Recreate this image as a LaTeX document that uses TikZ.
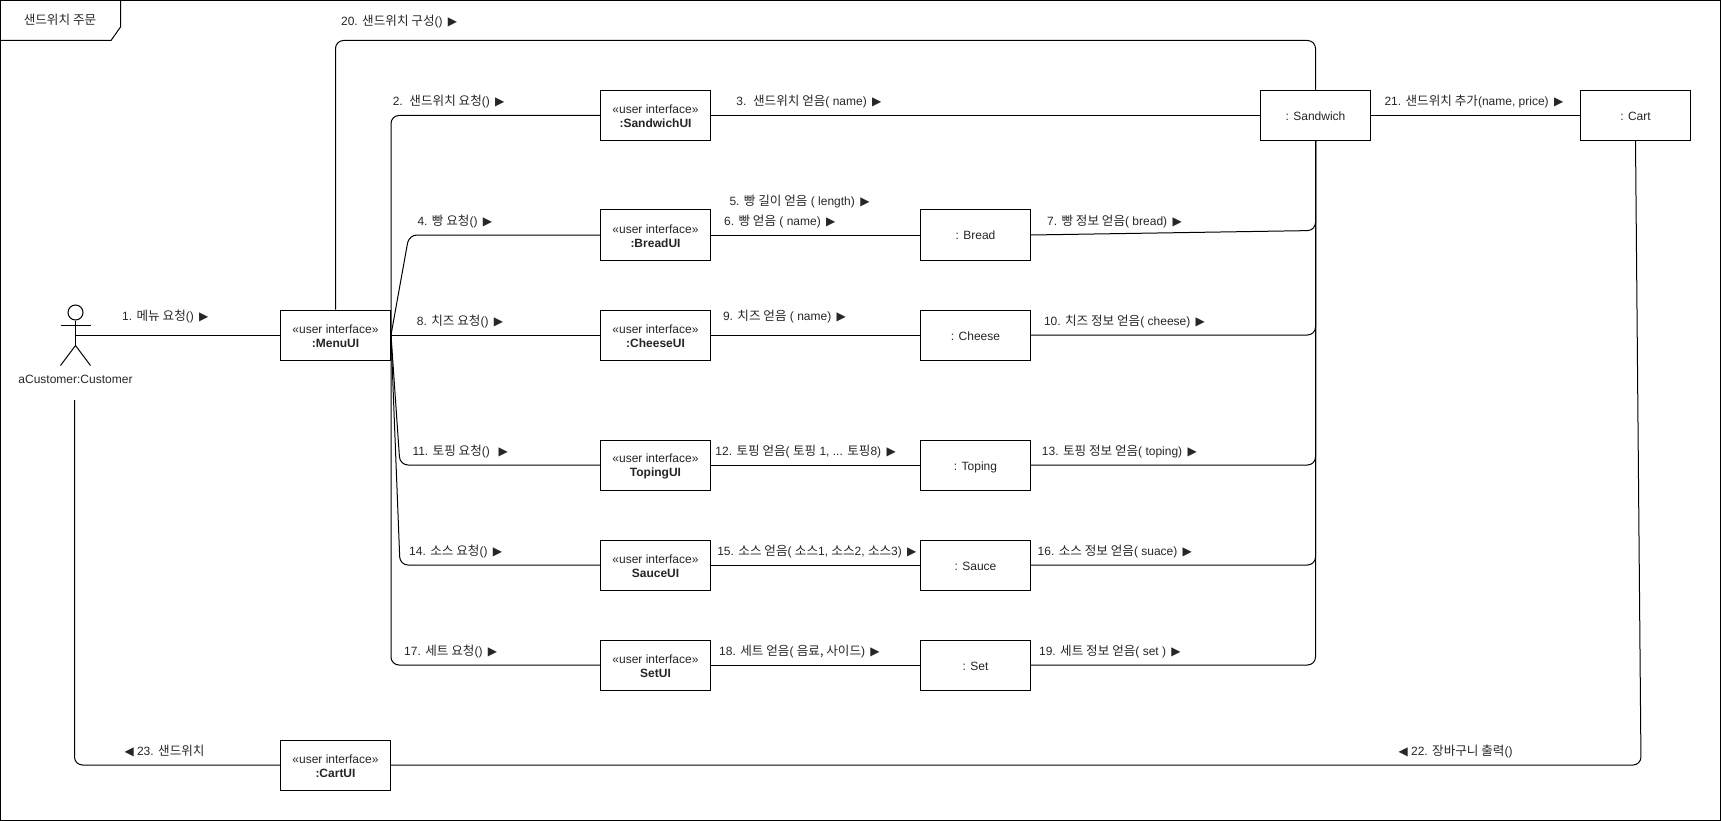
\documentclass[tikz,border=0pt]{standalone}
\usepackage{fontspec}
\setmainfont{Liberation Sans}
\newfontfamily\krfont{Noto Sans CJK KR}[Scale=1.05]
\newfontfamily\arrowfont{DejaVu Sans}
\newcommand{\kr}[1]{{\krfont #1}}
\newcommand{\ra}{\,{\arrowfont ▶}}
\newcommand{\la}{{\arrowfont ◀}}
\newcommand{\ui}[1]{\rule{0pt}{11pt}«user interface»\\\textbf{#1}}

\begin{document}
\begin{tikzpicture}
  [x=1pt,y=-1pt,line width=1pt,
   every node/.style={font=\fontsize{12}{14}\selectfont,text=black!85},
   objbox/.style={draw=black,fill=white,minimum width=110pt,minimum height=50pt,inner sep=0pt,align=center},
   entity/.style={objbox,text height=12pt,text depth=2pt},
   msg/.style={anchor=west,inner sep=0pt,yshift=-0.7pt},
   route/.style={rounded corners=8pt}]
  \useasboundingbox (0,0) rectangle (1721,821);
  \draw (0.7,0.7) rectangle (1720.3,820.3);
  \draw (120.5,0.7) -- (120.5,27) -- (111,40.5) -- (0.7,40.5);
  \node (title) at (60,20) {\kr{샌드위치 주문}};

  % actor
  \node (head) at (75.5,312.5) [draw=black,circle,minimum size=15pt,inner sep=0pt] {};
  \coordinate (hip) at (75.5,345.5);
  \coordinate (actor) at (75.5,335);
  \draw (head) -- (hip);
  \draw (60.5,325.5) -- (90.5,325.5);
  \draw (60.5,365.5) -- (hip) -- (90.5,365.5);
  \node (customer) at (75.5,379) {aCustomer:Customer};

  % boxes
  \node (menuUI) at (335.5,335) [objbox] {\ui{:MenuUI}};
  \node (cartUI) at (335.5,765) [objbox] {\ui{:CartUI}};
  \node (sandwichUI) at (655.5,115.5) [objbox] {\ui{:SandwichUI}};
  \node (breadUI) at (655.5,235) [objbox] {\ui{:BreadUI}};
  \node (cheeseUI) at (655.5,335) [objbox] {\ui{:CheeseUI}};
  \node (topingUI) at (655.5,465) [objbox] {\ui{TopingUI}};
  \node (sauceUI) at (655.5,565) [objbox] {\ui{SauceUI}};
  \node (setUI) at (655.5,665) [objbox] {\ui{SetUI}};
  \node (bread) at (975.5,235) [entity] {: Bread};
  \node (cheese) at (975.5,335) [entity] {: Cheese};
  \node (toping) at (975.5,465) [entity] {: Toping};
  \node (sauce) at (975.5,565) [entity] {: Sauce};
  \node (set) at (975.5,665) [entity] {: Set};
  \node (sandwich) at (1315.5,115.5) [entity] {: Sandwich};
  \node (cart) at (1635.5,115.5) [entity] {: Cart};

  % corners of the bent lines
  \coordinate (c20a) at (335.5,40.5);
  \coordinate (c20b) at (1315.5,40.5);
  \coordinate (c4) at (409,235);
  \coordinate (c11) at (400,465);
  \coordinate (c14) at (400,565);
  \coordinate (c7) at (1315.5,230.5);
  \coordinate (c22) at (1641,765);
  \coordinate (c23) at (74.5,765);
  \coordinate (c23end) at (74.5,400);

  \foreach \from/\to in {actor/menuUI.west,menuUI.east/cheeseUI.west,sandwichUI.east/sandwich.west,
      breadUI.east/bread.west,cheeseUI.east/cheese.west,topingUI.east/toping.west,sauceUI.east/sauce.west,
      setUI.east/set.west,sandwich.east/cart.west}
    \draw (\from) -- (\to);
  \foreach \from/\to in {menuUI.east/sandwichUI.west,menuUI.east/setUI.west}
    \draw[route] (\from) |- (\to);
  \foreach \from/\to in {cheese.east/sandwich.south,toping.east/sandwich.south,sauce.east/sandwich.south,set.east/sandwich.south}
    \draw[route] (\from) -| (\to);
  \foreach \from/\via/\to in {menuUI.east/c4/breadUI.west,menuUI.east/c11/topingUI.west,menuUI.east/c14/sauceUI.west,
      bread.east/c7/sandwich.south,cart.south/c22/cartUI.east}
    \draw[route] (\from) -- (\via) -- (\to);
  \draw[route] (menuUI.north) -- (c20a) -- (c20b) -- (sandwich.north);
  \draw[route] (cartUI.west) -- (c23) -- (c23end);

  % messages
  \node (m1) at (121.7,315.7) [msg] {1. \kr{메뉴 요청}() \ra};
  \node (m2) at (392.3,100.7) [msg] {2.\ \ \kr{샌드위치 요청}() \ra};
  \node (m3) at (735.9,100.7) [msg] {3.\ \ \kr{샌드위치 얻음}( name) \ra};
  \node (m4) at (417,220.7) [msg] {4. \kr{빵 요청}() \ra};
  \node (m5) at (729,200.7) [msg] {5. \kr{빵 길이 얻음} ( length) \ra};
  \node (m6) at (723.6,220.7) [msg] {6. \kr{빵 얻음} ( name) \ra};
  \node (m7) at (1046.6,220.7) [msg] {7. \kr{빵 정보 얻음}( bread) \ra};
  \node (m8) at (416.4,320.7) [msg] {8. \kr{치즈 요청}() \ra};
  \node (m9) at (722.5,315.7) [msg] {9. \kr{치즈 얻음} ( name) \ra};
  \node (m10) at (1043.5,320.7) [msg] {10. \kr{치즈 정보 얻음}( cheese) \ra};
  \node (m11) at (412,450.7) [msg] {11. \kr{토핑 요청}()\ \ \ra};
  \node (m12) at (714.9,450.7) [msg] {12. \kr{토핑 얻음}( \kr{토핑} 1, ... \kr{토핑}8) \ra};
  \node (m13) at (1041.4,450.7) [msg] {13. \kr{토핑 정보 얻음}( toping) \ra};
  \node (m14) at (408.7,550.7) [msg] {14. \kr{소스 요청}() \ra};
  \node (m15) at (716.8,550.7) [msg] {15. \kr{소스 얻음}( \kr{소스}1, \kr{소스}2, \kr{소스}3) \ra};
  \node (m16) at (1037.2,550.7) [msg] {16. \kr{소스 정보 얻음}( suace) \ra};
  \node (m17) at (403.7,650.7) [msg] {17. \kr{세트 요청}() \ra};
  \node (m18) at (718.7,650.7) [msg] {18. \kr{세트 얻음}( \kr{음료, 사이드}) \ra};
  \node (m19) at (1038.6,650.7) [msg] {19. \kr{세트 정보 얻음}( set ) \ra};
  \node (m20) at (340.6,21) [msg] {20. \kr{샌드위치 구성}() \ra};
  \node (m21) at (1384,100.7) [msg] {21. \kr{샌드위치 추가}(name, price) \ra};
  \node (m22) at (1398,750.7) [msg] {\la\ 22. \kr{장바구니 출력}()};
  \node (m23) at (124,750) [msg] {\la\ 23. \kr{샌드위치}};
\end{tikzpicture}
\end{document}
